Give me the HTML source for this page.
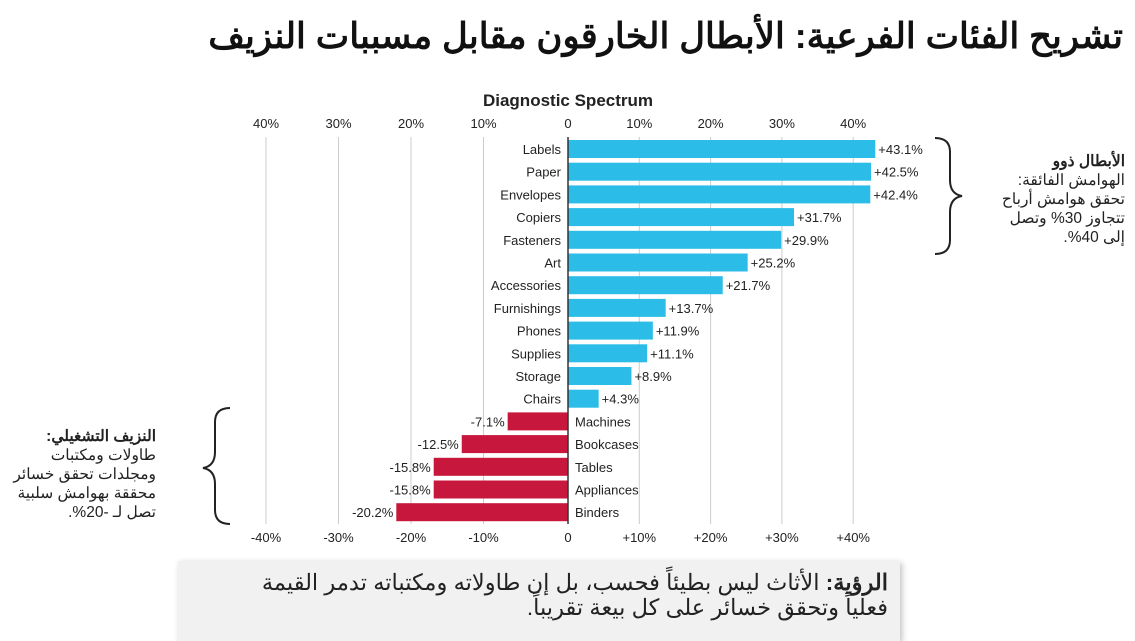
<!DOCTYPE html>
<html><head><meta charset="utf-8"><style>
body{margin:0;width:1135px;height:635px;overflow:hidden;background:#fff;font-family:"Liberation Sans","Noto Sans CJK SC",sans-serif;}
#title{position:absolute;right:12px;top:16px;font-size:35.5px;font-weight:bold;color:#111;direction:rtl;white-space:nowrap;}
.note{position:absolute;direction:rtl;text-align:right;font-size:15.5px;line-height:19px;color:#222;white-space:nowrap;}
#insight{position:absolute;left:178px;top:561px;width:722px;height:80px;background:#f1f1f1;box-shadow:2px 2px 6px rgba(0,0,0,.25);direction:rtl;text-align:right;font-size:22.5px;line-height:25px;color:#222;box-sizing:border-box;padding:9px 12px 0 0;white-space:nowrap;}
</style></head><body>
<div id="title">تشريح الفئات الفرعية: الأبطال الخارقون مقابل مسببات النزيف</div>
<svg id="chart" width="1135" height="635" style="position:absolute;left:0;top:0"></svg>
<div class="note" style="right:10px;top:152px"><b>الأبطال ذوو</b><br>الهوامش الفائقة:<br>تحقق هوامش أرباح<br>تتجاوز 30% وتصل<br>إلى 40%.</div>
<div class="note" style="right:979px;top:427px"><b>النزيف التشغيلي:</b><br>طاولات ومكتبات<br>ومجلدات تحقق خسائر<br>محققة بهوامش سلبية<br>تصل لـ -20%.</div>
<div id="insight"><b>الرؤية:</b> الأثاث ليس بطيئاً فحسب، بل إن طاولاته ومكتباته تدمر القيمة<br>فعلياً وتحقق خسائر على كل بيعة تقريباً.</div>
<script>
const categories=["Labels","Paper","Envelopes","Copiers","Fasteners","Art","Accessories","Furnishings","Phones","Supplies","Storage","Chairs","Machines","Bookcases","Tables","Appliances","Binders"];
const margins=[43.1,42.5,42.4,31.7,29.9,25.2,21.7,13.7,11.9,11.1,8.9,4.3,-7.1,-12.5,-15.8,-15.8,-20.2];
const tickValues=[-40,-30,-20,-10,0,10,20,30,40];
const topTickLabels=["40%","30%","20%","10%","0","10%","20%","30%","40%"];
const bottomTickLabels=["-40%","-30%","-20%","-10%","0","+10%","+20%","+30%","+40%"];
const NS="http://www.w3.org/2000/svg";
const svg=document.getElementById('chart');
// bar scale (negatives drawn at a wider scale in the reference)
const x=v=>v>=0?568+v*7.13:568+v*8.5;
// tick/grid scale
const xt=v=>v>0?568+v*7.13:(v===0?568:556+v*7.25);
const y=i=>149+i*22.7;
function mk(t,a,txt){const e=document.createElementNS(NS,t);for(const k in a)e.setAttribute(k,a[k]);if(txt!==undefined)e.textContent=txt;svg.appendChild(e);return e;}
let t=mk('text',{x:568,y:106,'text-anchor':'middle','font-size':17,'font-weight':'bold',fill:'#222'},'Diagnostic Spectrum');


tickValues.forEach((v,i)=>{
 if(v!==0){const g=mk('line',{x1:xt(v),x2:xt(v),y1:137,y2:524,stroke:'#ccc','stroke-width':1});
 
 }
 const a=mk('text',{x:xt(v),y:128,'text-anchor':'middle','font-size':13,fill:'#222'},topTickLabels[i]);
 
 
 const b=mk('text',{x:xt(v),y:542,'text-anchor':'middle','font-size':13,fill:'#222'},bottomTickLabels[i]);
 
 
});
categories.forEach((c,i)=>{
 const v=margins[i],pos=v>=0;
 const r=mk('rect',{x:Math.min(x(0),x(v)),y:y(i)-9,width:Math.abs(x(v)-x(0)),height:18,fill:pos?'#2bbde8':'#c8173c'});
 
 
 const l=mk('text',{x:pos?x(0)-7:x(0)+7,y:y(i)+5,'text-anchor':pos?'end':'start','font-size':13,fill:'#222'},c);
 
 
 const s=(pos?'+':'')+v.toFixed(1)+'%';
 const vl=mk('text',{x:pos?x(v)+3:x(v)-3,y:y(i)+5,'text-anchor':pos?'start':'end','font-size':13,fill:'#222'},s);
 
 
});
const z=mk('line',{x1:x(0),x2:x(0),y1:137,y2:524,stroke:'#333','stroke-width':1.5});


const b1=mk('path',{d:'M935,138 Q950,138 950,152 L950,180 Q950,194 962,196 Q950,198 950,212 L950,240 Q950,254 935,254',fill:'none',stroke:'#222','stroke-width':2});


const b2=mk('path',{d:'M230,408 Q215,408 215,422 L215,452 Q215,466 203,468 Q215,470 215,484 L215,510 Q215,524 230,524',fill:'none',stroke:'#222','stroke-width':2});


</script>
</body></html>
